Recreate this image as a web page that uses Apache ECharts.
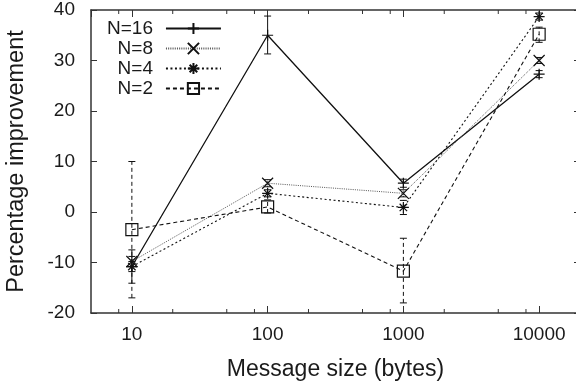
<!DOCTYPE html>
<html>
<head>
<meta charset="utf-8">
<script src="https://cdn.jsdelivr.net/npm/echarts@6/dist/echarts.min.js"></script>
<style>
html,body{margin:0;padding:0;background:#fff;}
#c{width:576px;height:381px;}
</style>
</head>
<body>
<div id="c"></div>
<script>
// ---- data ----
var sizes = [10, 100, 1000, 10000];
var n16 = [-10.8, 35.0, 5.7, 27.3];
var n8  = [-9.8, 5.7, 3.7, 30.0];
var n4  = [-10.8, 3.7, 0.9, 38.7];
var n2  = [-3.5, 1.0, -11.7, 35.2];
// error bars: [size, low, high]
var err16 = [[10, -14.1, -7.5], [100, 31.3, 38.8], [1000, 4.9, 6.5], [10000, 26.6, 28.0]];
var err8  = [[10, -10.8, -8.8], [100, 5.0, 6.4], [1000, 3.0, 4.4], [10000, 29.4, 30.6]];
var err4  = [[10, -11.8, -9.8], [100, 3.0, 4.4], [1000, -0.5, 2.3], [10000, 38.0, 39.4]];
var err2  = [[10, -17.0, 10.0], [100, -0.2, 2.4], [1000, -18.0, -5.2], [10000, 33.6, 36.6]];
var seriesNames = ['N=16', 'N=8', 'N=4', 'N=2'];
var xTickLabels = ['10', '100', '1000', '10000'];
var minorTicks = [8, 20, 50, 80, 200, 500, 800, 2000, 5000, 8000];

var FONT = 'Liberation Sans';
var INK = '#1a1a1a';

function pairs(vals) { return sizes.map(function (s, i) { return [s, vals[i]]; }); }

var styles = [
  { dash: 'solid', width: 1.3, color: '#111', symbol: 'path://M0,5L10,5M5,0L5,10', size: 11 },
  { dash: [1, 1.2], width: 1, color: '#555', symbol: 'path://M0,0L10,10M10,0L0,10', size: 11 },
  { dash: [2, 2.5], width: 1.1, color: '#111', symbol: 'path://M0,5L10,5M5,0L5,10M1.6,1.6L8.4,8.4M8.4,1.6L1.6,8.4', size: 11 },
  { dash: [4, 3], width: 1.1, color: '#111', symbol: 'rect', size: 12 }
];
var allVals = [n16, n8, n4, n2];
var allErr = [err16, err8, err4, err2];

var series = [];
allVals.forEach(function (vals, i) {
  var st = styles[i];
  series.push({
    name: seriesNames[i],
    type: 'line',
    data: pairs(vals),
    symbol: st.symbol,
    symbolSize: st.size,
    showAllSymbol: true,
    lineStyle: { color: st.color, width: st.width, type: st.dash },
    itemStyle: { color: 'none', borderColor: '#111', borderWidth: 1.2 },
    emphasis: { disabled: true },
    z: 3
  });
  series.push({
    name: seriesNames[i] + ' err',
    type: 'custom',
    data: allErr[i],
    encode: { x: 0, y: [1, 2] },
    silent: true,
    clip: false,
    z: 2,
    renderItem: function (params, api) {
      var lo = api.coord([api.value(0), api.value(1)]);
      var hi = api.coord([api.value(0), api.value(2)]);
      var cap = 3.5;
      var style = { stroke: '#111', lineWidth: 1, lineDash: st.dash === 'solid' ? null : st.dash, fill: null };
      return {
        type: 'group',
        children: [
          { type: 'line', shape: { x1: lo[0], y1: lo[1], x2: hi[0], y2: hi[1] }, style: style },
          { type: 'line', shape: { x1: lo[0] - cap, y1: lo[1], x2: lo[0] + cap, y2: lo[1] }, style: { stroke: '#111', lineWidth: 1 } },
          { type: 'line', shape: { x1: hi[0] - cap, y1: hi[1], x2: hi[0] + cap, y2: hi[1] }, style: { stroke: '#111', lineWidth: 1 } }
        ]
      };
    }
  });
});

// minor ticks on log x axis (bottom & top), via the axis scale
series.push({
  name: 'minor',
  type: 'custom',
  data: minorTicks.map(function (v) { return [v]; }),
  encode: { x: 0 },
  silent: true,
  clip: false,
  renderItem: function (params, api) {
    var b = api.coord([api.value(0), -20]);
    var t = api.coord([api.value(0), 40]);
    var st = { stroke: '#333', lineWidth: 1 };
    return {
      type: 'group',
      children: [
        { type: 'line', shape: { x1: b[0], y1: b[1], x2: b[0], y2: b[1] - 4 }, style: st },
        { type: 'line', shape: { x1: t[0], y1: t[1], x2: t[0], y2: t[1] + 4 }, style: st }
      ]
    };
  }
});

var chart = echarts.init(document.getElementById('c'), null, { renderer: 'canvas' });
var axisLine = { show: true, onZero: false, lineStyle: { color: '#333', width: 1.5 } };
chart.setOption({
  animation: false,
  backgroundColor: '#fff',
  textStyle: { fontFamily: FONT },
  grid: { left: 91, top: 10, width: 489, height: 303, containLabel: false, outerBoundsMode: 'none' },
  legend: {
    data: seriesNames,
    orient: 'vertical',
    align: 'right',
    left: 102,
    top: 14,
    itemWidth: 55,
    itemHeight: 14,
    itemGap: 1,
    selectedMode: false,
    textStyle: { fontFamily: FONT, fontSize: 19, color: INK, padding: [0, 8, 0, 0] }
  },
  xAxis: [{
    type: 'log',
    logBase: 10,
    min: 5,
    max: 20000,
    name: 'Message size (bytes)',
    nameLocation: 'middle',
    nameGap: 45,
    nameTextStyle: { fontFamily: FONT, fontSize: 23, color: INK },
    axisLine: axisLine,
    axisTick: { show: true, inside: true, length: 7, lineStyle: { color: '#333' } },
    axisLabel: {
      fontFamily: FONT, fontSize: 19, color: INK, margin: 12,
      showMinLabel: false, showMaxLabel: false,
      formatter: function (v) {
        var idx = sizes.indexOf(Math.round(v));
        return idx >= 0 ? xTickLabels[idx] : '';
      }
    },
    splitLine: { show: false }
  }, {
    type: 'log',
    logBase: 10,
    min: 5,
    max: 20000,
    position: 'top',
    axisLine: axisLine,
    axisTick: { show: true, inside: true, length: 7, lineStyle: { color: '#333' } },
    axisLabel: { show: false },
    splitLine: { show: false }
  }],
  yAxis: [{
    type: 'value',
    min: -20,
    max: 40,
    interval: 10,
    name: 'Percentage improvement',
    nameLocation: 'middle',
    nameGap: 62,
    nameTextStyle: { fontFamily: FONT, fontSize: 23.5, color: INK },
    axisLine: axisLine,
    axisTick: { show: true, inside: true, length: 6, lineStyle: { color: '#333' } },
    axisLabel: { fontFamily: FONT, fontSize: 19, color: INK, margin: 16 },
    splitLine: { show: false }
  }, {
    type: 'value',
    min: -20,
    max: 40,
    interval: 10,
    position: 'right',
    axisLine: axisLine,
    axisTick: { show: true, inside: true, length: 6, lineStyle: { color: '#333' } },
    axisLabel: { show: false },
    splitLine: { show: false }
  }],
  series: series
});
</script>
</body>
</html>
